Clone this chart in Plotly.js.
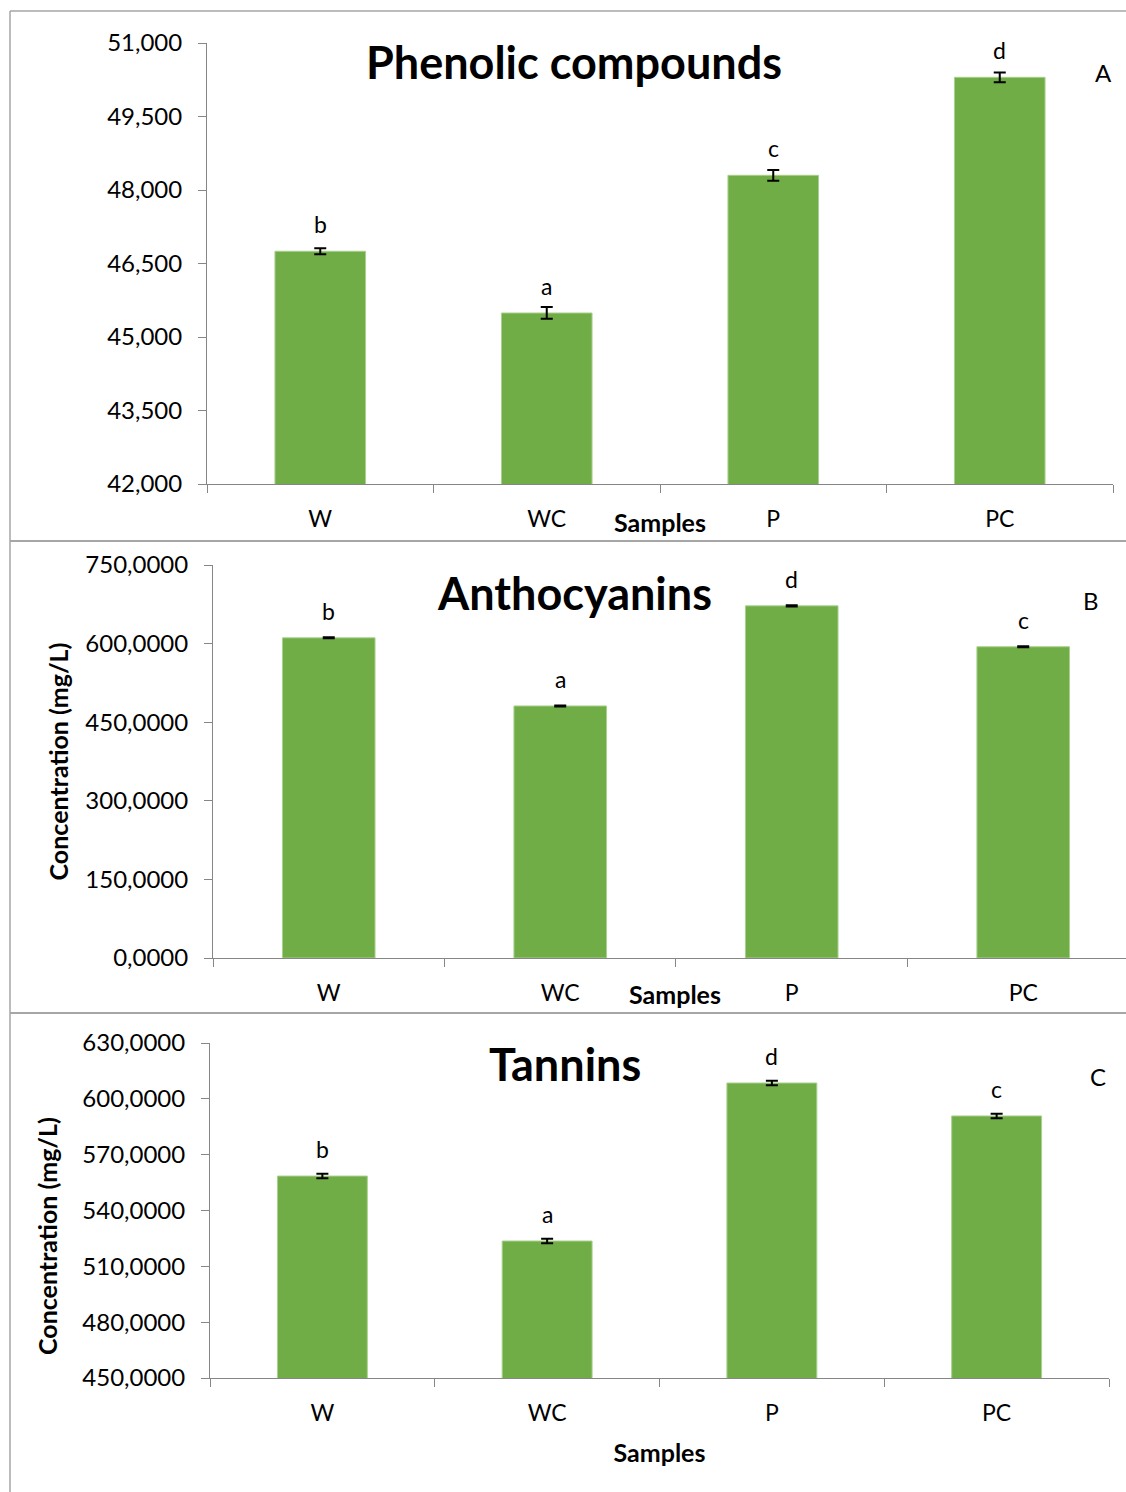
<!DOCTYPE html>
<html>
<head>
<meta charset="utf-8">
<script src="https://cdn.plot.ly/plotly-3.0.1.min.js"></script>
<style>html,body{margin:0;padding:0;background:#fff;}#chart{width:1126px;height:1492px;}</style>
</head>
<body>
<div id="chart"></div>
<script>
// ---- data ----
const samples = ["W", "WC", "P", "PC"];

const phenolicValues = [46750, 45490, 48300, 50300];
const phenolicErrors = [60, 120, 110, 100];
const phenolicLetters = ["b", "a", "c", "d"];
const phenolicTickVals = [42000, 43500, 45000, 46500, 48000, 49500, 51000];
const phenolicTickText = ["42,000", "43,500", "45,000", "46,500", "48,000", "49,500", "51,000"];

const anthoValues = [611, 481, 672, 594];
const anthoErrors = [1, 1, 1, 1];
const anthoLetters = ["b", "a", "d", "c"];
const anthoTickVals = [0, 150, 300, 450, 600, 750];
const anthoTickText = ["0,0000", "150,0000", "300,0000", "450,0000", "600,0000", "750,0000"];

const tanninValues = [558.5, 523.6, 608.5, 590.8];
const tanninErrors = [1.2, 1.2, 1.2, 1.2];
const tanninLetters = ["b", "a", "d", "c"];
const tanninTickVals = [450, 480, 510, 540, 570, 600, 630];
const tanninTickText = ["450,0000", "480,0000", "510,0000", "540,0000", "570,0000", "600,0000", "630,0000"];

// ---- styling ----
const FONT = "Lato, 'Open Sans', sans-serif";
const GREEN = "#70AD47";
const AXIS = "#868686";
const FRAME = "#a6a6a6";
const W = 1126, H = 1492;
const px = v => v / W;
const py = v => 1 - v / H;

function barTrace(vals, errs, xa, ya, name) {
  return {
    type: "bar", x: samples, y: vals, xaxis: xa, yaxis: ya, name: name,
    width: 0.4,
    marker: {color: GREEN, line: {color: "#a9d08e", width: 1}},
    error_y: {type: "data", array: errs, visible: true, color: "#000", thickness: 2, width: 6},
    showlegend: false, hoverinfo: "x+y"
  };
}

const data = [
  barTrace(phenolicValues, phenolicErrors, "x", "y", "Phenolic compounds"),
  barTrace(anthoValues, anthoErrors, "x2", "y2", "Anthocyanins"),
  barTrace(tanninValues, tanninErrors, "x3", "y3", "Tannins")
];

function xAxis(domain, anchor, range) {
  return {
    domain: domain, anchor: anchor, type: "category",
    range: range, showgrid: false, zeroline: false,
    showline: true, linecolor: AXIS, linewidth: 1,
    ticks: "outside", tickson: "boundaries", ticklen: 8, tickcolor: AXIS, tickwidth: 1,
    tickfont: {family: FONT, size: 23, color: "#000"},
    ticklabelstandoff: 14,
    automargin: false, fixedrange: true
  };
}
function yAxis(domain, anchor, range, tv, tt) {
  return {
    domain: domain, anchor: anchor, range: range,
    tickmode: "array", tickvals: tv, ticktext: tt,
    showgrid: false, zeroline: false,
    showline: true, linecolor: AXIS, linewidth: 1,
    ticks: "outside", ticklen: 8, tickcolor: AXIS, tickwidth: 1,
    tickfont: {family: FONT, size: 24, color: "#000"},
    ticklabelstandoff: 11,
    automargin: false, fixedrange: true
  };
}

const xa1 = xAxis([px(207), px(1113)], "y", [-0.5, 3.5]);
const ya1 = yAxis([py(484), py(43)], "x", [42000, 51000], phenolicTickVals, phenolicTickText);
const xa2 = xAxis([px(213), 1], "y2", [-0.5, 3.444]);
const ya2 = yAxis([py(958), py(565)], "x2", [0, 750], anthoTickVals, anthoTickText);
ya2.title = {text: "<b>Concentration (mg/L)</b>", font: {family: FONT, size: 25, color: "#000"}, standoff: 9};
const xa3 = xAxis([px(210), px(1109)], "y3", [-0.5, 3.5]);
xa3.title = {text: "<b>Samples</b>", font: {family: FONT, size: 25, color: "#000"}, standoff: 19};
const ya3 = yAxis([py(1378), py(1043)], "x3", [450, 630], tanninTickVals, tanninTickText);

const annotations = [];
function letters(vals, letts, xa, ya) {
  samples.forEach((s, i) => {
    annotations.push({
      x: s, y: vals[i], xref: xa, yref: ya, text: letts[i], showarrow: false,
      yanchor: "bottom", yshift: 11, font: {family: FONT, size: 23, color: "#000"}
    });
  });
}
letters(phenolicValues, phenolicLetters, "x", "y");
letters(anthoValues, anthoLetters, "x2", "y2");
letters(tanninValues, tanninLetters, "x3", "y3");

function paperText(text, x, y, size, bold, angle) {
  annotations.push({
    xref: "paper", yref: "paper", x: px(x), y: py(y), xanchor: "center", yanchor: "middle",
    text: bold ? "<b>" + text + "</b>" : text, showarrow: false, textangle: angle || 0,
    font: {family: FONT, size: size, color: "#000"}
  });
}
paperText("Phenolic compounds", 574, 62, 45, true);
paperText("Anthocyanins", 574, 593, 45, true);
paperText("Tannins", 565, 1064, 45, true);
paperText("A", 1103, 73, 24, false);
paperText("B", 1091, 600, 24, false);
paperText("C", 1098, 1076, 24, false);
paperText("Samples", 660, 522, 25, true);
paperText("Samples", 675, 994, 25, true);
// y-axis title of panel C (offset downward in the original)
paperText("Concentration (mg/L)", 47, 1236, 25, true, -90);

const frameLine = {color: FRAME, width: 1.5};
const shapes = [
  {type: "line", xref: "paper", yref: "paper", x0: px(10), x1: 1, y0: py(11), y1: py(11), line: frameLine},
  {type: "line", xref: "paper", yref: "paper", x0: px(10), x1: px(10), y0: py(11), y1: 0, line: frameLine},
  {type: "line", xref: "paper", yref: "paper", x0: px(10), x1: 1, y0: py(541), y1: py(541), line: {color: FRAME, width: 2}},
  {type: "line", xref: "paper", yref: "paper", x0: px(10), x1: 1, y0: py(1013), y1: py(1013), line: {color: FRAME, width: 2}}
];

const layout = {
  width: W, height: H,
  margin: {l: 0, r: 0, t: 0, b: 0, pad: 0},
  paper_bgcolor: "#fff", plot_bgcolor: "rgba(0,0,0,0)",
  font: {family: FONT, color: "#000"},
  xaxis: xa1, yaxis: ya1, xaxis2: xa2, yaxis2: ya2, xaxis3: xa3, yaxis3: ya3,
  annotations: annotations, shapes: shapes, showlegend: false
};

Plotly.newPlot("chart", data, layout, {displayModeBar: false, staticPlot: true});
</script>
</body>
</html>
